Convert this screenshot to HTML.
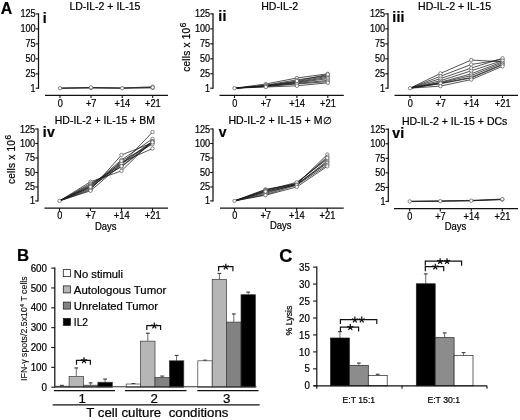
<!DOCTYPE html>
<html><head><meta charset="utf-8"><title>Figure</title>
<style>html,body{margin:0;padding:0;background:#fff;}svg{display:block;will-change:transform;} svg text{font-family:"Liberation Sans", sans-serif;stroke:#000;stroke-width:0.22px;}</style>
</head><body>
<svg width="520" height="420" viewBox="0 0 520 420" fill="#000">
<rect width="520" height="420" fill="#fff"/>
<text x="0.7" y="13.7" font-size="15.9" text-anchor="start" font-weight="bold" >A</text>
<text x="17.1" y="260.7" font-size="16.8" text-anchor="start" font-weight="bold" >B</text>
<text x="279.2" y="262.3" font-size="18.2" text-anchor="start" font-weight="bold" >C</text>
<line x1="38.5" y1="13.3" x2="38.5" y2="88.8" stroke="#111" stroke-width="1.25"/>
<line x1="35.7" y1="13.9" x2="38.5" y2="13.9" stroke="#111" stroke-width="1.1"/>
<text x="20.4" y="17.4" font-size="10.3" text-anchor="start" font-weight="normal" textLength="15.2" lengthAdjust="spacingAndGlyphs" >125</text>
<line x1="35.7" y1="28.88" x2="38.5" y2="28.88" stroke="#111" stroke-width="1.1"/>
<text x="20.4" y="32.38" font-size="10.3" text-anchor="start" font-weight="normal" textLength="15.2" lengthAdjust="spacingAndGlyphs" >100</text>
<line x1="35.7" y1="43.86" x2="38.5" y2="43.86" stroke="#111" stroke-width="1.1"/>
<text x="25.5" y="47.36" font-size="10.3" text-anchor="start" font-weight="normal" textLength="10.1" lengthAdjust="spacingAndGlyphs" >75</text>
<line x1="35.7" y1="58.84" x2="38.5" y2="58.84" stroke="#111" stroke-width="1.1"/>
<text x="25.5" y="62.34" font-size="10.3" text-anchor="start" font-weight="normal" textLength="10.1" lengthAdjust="spacingAndGlyphs" >50</text>
<line x1="35.7" y1="73.82" x2="38.5" y2="73.82" stroke="#111" stroke-width="1.1"/>
<text x="25.5" y="77.32" font-size="10.3" text-anchor="start" font-weight="normal" textLength="10.1" lengthAdjust="spacingAndGlyphs" >25</text>
<line x1="35.7" y1="88.2" x2="38.5" y2="88.2" stroke="#111" stroke-width="1.1"/>
<text x="30.6" y="91.7" font-size="10.3" text-anchor="start" font-weight="normal" textLength="5.0" lengthAdjust="spacingAndGlyphs" >1</text>
<line x1="45" y1="95.3" x2="168" y2="95.3" stroke="#111" stroke-width="1.3"/>
<line x1="60" y1="95.3" x2="60" y2="98.1" stroke="#111" stroke-width="1.1"/>
<text x="57.65" y="106.5" font-size="10.3" text-anchor="start" font-weight="normal" textLength="5.1" lengthAdjust="spacingAndGlyphs" >0</text>
<line x1="91" y1="95.3" x2="91" y2="98.1" stroke="#111" stroke-width="1.1"/>
<text x="85.9" y="106.5" font-size="10.3" text-anchor="start" font-weight="normal" textLength="10.6" lengthAdjust="spacingAndGlyphs" >+7</text>
<line x1="122.2" y1="95.3" x2="122.2" y2="98.1" stroke="#111" stroke-width="1.1"/>
<text x="114.5" y="106.5" font-size="10.3" text-anchor="start" font-weight="normal" textLength="15.8" lengthAdjust="spacingAndGlyphs" >+14</text>
<line x1="152.7" y1="95.3" x2="152.7" y2="98.1" stroke="#111" stroke-width="1.1"/>
<text x="145.0" y="106.5" font-size="10.3" text-anchor="start" font-weight="normal" textLength="15.8" lengthAdjust="spacingAndGlyphs" >+21</text>
<text x="69.4" y="9.9" font-size="10.4" text-anchor="start" font-weight="normal" textLength="71" lengthAdjust="spacingAndGlyphs" >LD-IL-2 + IL-15</text>
<text x="42.7" y="23.2" font-size="14.0" text-anchor="start" font-weight="bold" letter-spacing="0.3">i</text>
<polyline points="60,88.2 91,88.02 122.2,88.2 152.7,87.9" fill="none" stroke="#1c1c1c" stroke-width="0.75"/>
<polyline points="60,88.2 91,87.42 122.2,88.02 152.7,86.76" fill="none" stroke="#1c1c1c" stroke-width="0.75"/>
<polyline points="60,88.2 91,87.72 122.2,88.08 152.7,87.42" fill="none" stroke="#1c1c1c" stroke-width="0.75"/>
<circle cx="60" cy="88.2" r="1.7" fill="#fff" stroke="#555" stroke-width="0.7"/>
<circle cx="91" cy="88.02" r="1.7" fill="#fff" stroke="#555" stroke-width="0.7"/>
<circle cx="122.2" cy="88.2" r="1.7" fill="#fff" stroke="#555" stroke-width="0.7"/>
<circle cx="152.7" cy="87.9" r="1.7" fill="#fff" stroke="#555" stroke-width="0.7"/>
<circle cx="91" cy="87.42" r="1.7" fill="#fff" stroke="#555" stroke-width="0.7"/>
<circle cx="152.7" cy="86.76" r="1.7" fill="#fff" stroke="#555" stroke-width="0.7"/>
<circle cx="152.7" cy="87.42" r="1.7" fill="#fff" stroke="#555" stroke-width="0.7"/>
<line x1="213" y1="13.3" x2="213" y2="88.8" stroke="#111" stroke-width="1.25"/>
<line x1="210.2" y1="13.9" x2="213" y2="13.9" stroke="#111" stroke-width="1.1"/>
<text x="194.9" y="17.4" font-size="10.3" text-anchor="start" font-weight="normal" textLength="15.2" lengthAdjust="spacingAndGlyphs" >125</text>
<line x1="210.2" y1="28.88" x2="213" y2="28.88" stroke="#111" stroke-width="1.1"/>
<text x="194.9" y="32.38" font-size="10.3" text-anchor="start" font-weight="normal" textLength="15.2" lengthAdjust="spacingAndGlyphs" >100</text>
<line x1="210.2" y1="43.86" x2="213" y2="43.86" stroke="#111" stroke-width="1.1"/>
<text x="200.0" y="47.36" font-size="10.3" text-anchor="start" font-weight="normal" textLength="10.1" lengthAdjust="spacingAndGlyphs" >75</text>
<line x1="210.2" y1="58.84" x2="213" y2="58.84" stroke="#111" stroke-width="1.1"/>
<text x="200.0" y="62.34" font-size="10.3" text-anchor="start" font-weight="normal" textLength="10.1" lengthAdjust="spacingAndGlyphs" >50</text>
<line x1="210.2" y1="73.82" x2="213" y2="73.82" stroke="#111" stroke-width="1.1"/>
<text x="200.0" y="77.32" font-size="10.3" text-anchor="start" font-weight="normal" textLength="10.1" lengthAdjust="spacingAndGlyphs" >25</text>
<line x1="210.2" y1="88.2" x2="213" y2="88.2" stroke="#111" stroke-width="1.1"/>
<text x="205.1" y="91.7" font-size="10.3" text-anchor="start" font-weight="normal" textLength="5.0" lengthAdjust="spacingAndGlyphs" >1</text>
<line x1="219.5" y1="95.3" x2="343.8" y2="95.3" stroke="#111" stroke-width="1.3"/>
<line x1="234.5" y1="95.3" x2="234.5" y2="98.1" stroke="#111" stroke-width="1.1"/>
<text x="232.15" y="106.5" font-size="10.3" text-anchor="start" font-weight="normal" textLength="5.1" lengthAdjust="spacingAndGlyphs" >0</text>
<line x1="265.8" y1="95.3" x2="265.8" y2="98.1" stroke="#111" stroke-width="1.1"/>
<text x="260.7" y="106.5" font-size="10.3" text-anchor="start" font-weight="normal" textLength="10.6" lengthAdjust="spacingAndGlyphs" >+7</text>
<line x1="296.9" y1="95.3" x2="296.9" y2="98.1" stroke="#111" stroke-width="1.1"/>
<text x="289.2" y="106.5" font-size="10.3" text-anchor="start" font-weight="normal" textLength="15.8" lengthAdjust="spacingAndGlyphs" >+14</text>
<line x1="327.8" y1="95.3" x2="327.8" y2="98.1" stroke="#111" stroke-width="1.1"/>
<text x="320.1" y="106.5" font-size="10.3" text-anchor="start" font-weight="normal" textLength="15.8" lengthAdjust="spacingAndGlyphs" >+21</text>
<text x="261.2" y="9.8" font-size="10.4" text-anchor="start" font-weight="normal" textLength="37" lengthAdjust="spacingAndGlyphs" >HD-IL-2</text>
<text x="218.3" y="21.4" font-size="14.0" text-anchor="start" font-weight="bold" letter-spacing="0.3">ii</text>
<text transform="translate(190.1,71.7) rotate(-90)" font-size="10" text-anchor="start"><tspan textLength="43.8" lengthAdjust="spacing">cells x 10</tspan><tspan dy="-4.2" dx="0.4" font-size="8.2">6</tspan></text>
<polyline points="234.5,88.2 265.8,84.01 296.9,78.01 327.8,73.82" fill="none" stroke="#1c1c1c" stroke-width="0.75"/>
<polyline points="234.5,88.2 265.8,85.2 296.9,79.81 327.8,75.62" fill="none" stroke="#1c1c1c" stroke-width="0.75"/>
<polyline points="234.5,88.2 265.8,85.8 296.9,81.61 327.8,76.22" fill="none" stroke="#1c1c1c" stroke-width="0.75"/>
<polyline points="234.5,88.2 265.8,85.8 296.9,82.21 327.8,77.41" fill="none" stroke="#1c1c1c" stroke-width="0.75"/>
<polyline points="234.5,88.2 265.8,85.8 296.9,82.81 327.8,78.61" fill="none" stroke="#1c1c1c" stroke-width="0.75"/>
<polyline points="234.5,88.2 265.8,86.4 296.9,83.41 327.8,80.41" fill="none" stroke="#1c1c1c" stroke-width="0.75"/>
<polyline points="234.5,88.2 265.8,86.4 296.9,84.01 327.8,81.61" fill="none" stroke="#1c1c1c" stroke-width="0.75"/>
<polyline points="234.5,88.2 265.8,87.0 296.9,85.8 327.8,82.81" fill="none" stroke="#1c1c1c" stroke-width="0.75"/>
<polyline points="234.5,88.2 265.8,85.8 296.9,81.01 327.8,74.42" fill="none" stroke="#1c1c1c" stroke-width="0.75"/>
<circle cx="234.5" cy="88.2" r="1.7" fill="#fff" stroke="#555" stroke-width="0.7"/>
<circle cx="265.8" cy="84.01" r="1.7" fill="#fff" stroke="#555" stroke-width="0.7"/>
<circle cx="296.9" cy="78.01" r="1.7" fill="#fff" stroke="#555" stroke-width="0.7"/>
<circle cx="327.8" cy="73.82" r="1.7" fill="#fff" stroke="#555" stroke-width="0.7"/>
<circle cx="265.8" cy="85.2" r="1.7" fill="#fff" stroke="#555" stroke-width="0.7"/>
<circle cx="296.9" cy="79.81" r="1.7" fill="#fff" stroke="#555" stroke-width="0.7"/>
<circle cx="327.8" cy="75.62" r="1.7" fill="#fff" stroke="#555" stroke-width="0.7"/>
<circle cx="265.8" cy="85.8" r="1.7" fill="#fff" stroke="#555" stroke-width="0.7"/>
<circle cx="296.9" cy="81.61" r="1.7" fill="#fff" stroke="#555" stroke-width="0.7"/>
<circle cx="327.8" cy="76.22" r="1.7" fill="#fff" stroke="#555" stroke-width="0.7"/>
<circle cx="296.9" cy="82.21" r="1.7" fill="#fff" stroke="#555" stroke-width="0.7"/>
<circle cx="327.8" cy="77.41" r="1.7" fill="#fff" stroke="#555" stroke-width="0.7"/>
<circle cx="296.9" cy="82.81" r="1.7" fill="#fff" stroke="#555" stroke-width="0.7"/>
<circle cx="327.8" cy="78.61" r="1.7" fill="#fff" stroke="#555" stroke-width="0.7"/>
<circle cx="265.8" cy="86.4" r="1.7" fill="#fff" stroke="#555" stroke-width="0.7"/>
<circle cx="296.9" cy="83.41" r="1.7" fill="#fff" stroke="#555" stroke-width="0.7"/>
<circle cx="327.8" cy="80.41" r="1.7" fill="#fff" stroke="#555" stroke-width="0.7"/>
<circle cx="296.9" cy="84.01" r="1.7" fill="#fff" stroke="#555" stroke-width="0.7"/>
<circle cx="327.8" cy="81.61" r="1.7" fill="#fff" stroke="#555" stroke-width="0.7"/>
<circle cx="265.8" cy="87.0" r="1.7" fill="#fff" stroke="#555" stroke-width="0.7"/>
<circle cx="296.9" cy="85.8" r="1.7" fill="#fff" stroke="#555" stroke-width="0.7"/>
<circle cx="327.8" cy="82.81" r="1.7" fill="#fff" stroke="#555" stroke-width="0.7"/>
<circle cx="296.9" cy="81.01" r="1.7" fill="#fff" stroke="#555" stroke-width="0.7"/>
<circle cx="327.8" cy="74.42" r="1.7" fill="#fff" stroke="#555" stroke-width="0.7"/>
<line x1="388" y1="13.3" x2="388" y2="88.8" stroke="#111" stroke-width="1.25"/>
<line x1="385.2" y1="13.9" x2="388" y2="13.9" stroke="#111" stroke-width="1.1"/>
<text x="369.9" y="17.4" font-size="10.3" text-anchor="start" font-weight="normal" textLength="15.2" lengthAdjust="spacingAndGlyphs" >125</text>
<line x1="385.2" y1="28.88" x2="388" y2="28.88" stroke="#111" stroke-width="1.1"/>
<text x="369.9" y="32.38" font-size="10.3" text-anchor="start" font-weight="normal" textLength="15.2" lengthAdjust="spacingAndGlyphs" >100</text>
<line x1="385.2" y1="43.86" x2="388" y2="43.86" stroke="#111" stroke-width="1.1"/>
<text x="375.0" y="47.36" font-size="10.3" text-anchor="start" font-weight="normal" textLength="10.1" lengthAdjust="spacingAndGlyphs" >75</text>
<line x1="385.2" y1="58.84" x2="388" y2="58.84" stroke="#111" stroke-width="1.1"/>
<text x="375.0" y="62.34" font-size="10.3" text-anchor="start" font-weight="normal" textLength="10.1" lengthAdjust="spacingAndGlyphs" >50</text>
<line x1="385.2" y1="73.82" x2="388" y2="73.82" stroke="#111" stroke-width="1.1"/>
<text x="375.0" y="77.32" font-size="10.3" text-anchor="start" font-weight="normal" textLength="10.1" lengthAdjust="spacingAndGlyphs" >25</text>
<line x1="385.2" y1="88.2" x2="388" y2="88.2" stroke="#111" stroke-width="1.1"/>
<text x="380.1" y="91.7" font-size="10.3" text-anchor="start" font-weight="normal" textLength="5.0" lengthAdjust="spacingAndGlyphs" >1</text>
<line x1="394.5" y1="95.3" x2="518" y2="95.3" stroke="#111" stroke-width="1.3"/>
<line x1="410" y1="95.3" x2="410" y2="98.1" stroke="#111" stroke-width="1.1"/>
<text x="407.65" y="106.5" font-size="10.3" text-anchor="start" font-weight="normal" textLength="5.1" lengthAdjust="spacingAndGlyphs" >0</text>
<line x1="440.5" y1="95.3" x2="440.5" y2="98.1" stroke="#111" stroke-width="1.1"/>
<text x="435.4" y="106.5" font-size="10.3" text-anchor="start" font-weight="normal" textLength="10.6" lengthAdjust="spacingAndGlyphs" >+7</text>
<line x1="471.2" y1="95.3" x2="471.2" y2="98.1" stroke="#111" stroke-width="1.1"/>
<text x="463.5" y="106.5" font-size="10.3" text-anchor="start" font-weight="normal" textLength="15.8" lengthAdjust="spacingAndGlyphs" >+14</text>
<line x1="502.5" y1="95.3" x2="502.5" y2="98.1" stroke="#111" stroke-width="1.1"/>
<text x="494.8" y="106.5" font-size="10.3" text-anchor="start" font-weight="normal" textLength="15.8" lengthAdjust="spacingAndGlyphs" >+21</text>
<text x="418" y="10.0" font-size="10.4" text-anchor="start" font-weight="normal" textLength="73.2" lengthAdjust="spacingAndGlyphs" >HD-IL-2 + IL-15</text>
<text x="392.2" y="22.4" font-size="14.0" text-anchor="start" font-weight="bold" letter-spacing="0.3">iii</text>
<polyline points="410,88.2 440.5,73.4 471.2,60.04 502.5,61.84" fill="none" stroke="#1c1c1c" stroke-width="0.75"/>
<polyline points="410,88.2 440.5,76.22 471.2,64.53 502.5,59.44" fill="none" stroke="#1c1c1c" stroke-width="0.75"/>
<polyline points="410,88.2 440.5,78.61 471.2,68.07 502.5,58.24" fill="none" stroke="#1c1c1c" stroke-width="0.75"/>
<polyline points="410,88.2 440.5,80.71 471.2,70.82 502.5,60.64" fill="none" stroke="#1c1c1c" stroke-width="0.75"/>
<polyline points="410,88.2 440.5,82.21 471.2,73.82 502.5,61.84" fill="none" stroke="#1c1c1c" stroke-width="0.75"/>
<polyline points="410,88.2 440.5,82.81 471.2,75.62 502.5,63.03" fill="none" stroke="#1c1c1c" stroke-width="0.75"/>
<polyline points="410,88.2 440.5,83.41 471.2,77.41 502.5,64.23" fill="none" stroke="#1c1c1c" stroke-width="0.75"/>
<polyline points="410,88.2 440.5,83.71 471.2,78.01 502.5,64.83" fill="none" stroke="#1c1c1c" stroke-width="0.75"/>
<polyline points="410,88.2 440.5,86.1 471.2,79.57 502.5,66.33" fill="none" stroke="#1c1c1c" stroke-width="0.75"/>
<circle cx="410" cy="88.2" r="1.7" fill="#fff" stroke="#555" stroke-width="0.7"/>
<circle cx="440.5" cy="73.4" r="1.7" fill="#fff" stroke="#555" stroke-width="0.7"/>
<circle cx="471.2" cy="60.04" r="1.7" fill="#fff" stroke="#555" stroke-width="0.7"/>
<circle cx="502.5" cy="61.84" r="1.7" fill="#fff" stroke="#555" stroke-width="0.7"/>
<circle cx="440.5" cy="76.22" r="1.7" fill="#fff" stroke="#555" stroke-width="0.7"/>
<circle cx="471.2" cy="64.53" r="1.7" fill="#fff" stroke="#555" stroke-width="0.7"/>
<circle cx="502.5" cy="59.44" r="1.7" fill="#fff" stroke="#555" stroke-width="0.7"/>
<circle cx="440.5" cy="78.61" r="1.7" fill="#fff" stroke="#555" stroke-width="0.7"/>
<circle cx="471.2" cy="68.07" r="1.7" fill="#fff" stroke="#555" stroke-width="0.7"/>
<circle cx="502.5" cy="58.24" r="1.7" fill="#fff" stroke="#555" stroke-width="0.7"/>
<circle cx="440.5" cy="80.71" r="1.7" fill="#fff" stroke="#555" stroke-width="0.7"/>
<circle cx="471.2" cy="70.82" r="1.7" fill="#fff" stroke="#555" stroke-width="0.7"/>
<circle cx="502.5" cy="60.64" r="1.7" fill="#fff" stroke="#555" stroke-width="0.7"/>
<circle cx="440.5" cy="82.21" r="1.7" fill="#fff" stroke="#555" stroke-width="0.7"/>
<circle cx="471.2" cy="73.82" r="1.7" fill="#fff" stroke="#555" stroke-width="0.7"/>
<circle cx="440.5" cy="82.81" r="1.7" fill="#fff" stroke="#555" stroke-width="0.7"/>
<circle cx="471.2" cy="75.62" r="1.7" fill="#fff" stroke="#555" stroke-width="0.7"/>
<circle cx="502.5" cy="63.03" r="1.7" fill="#fff" stroke="#555" stroke-width="0.7"/>
<circle cx="440.5" cy="83.41" r="1.7" fill="#fff" stroke="#555" stroke-width="0.7"/>
<circle cx="471.2" cy="77.41" r="1.7" fill="#fff" stroke="#555" stroke-width="0.7"/>
<circle cx="502.5" cy="64.23" r="1.7" fill="#fff" stroke="#555" stroke-width="0.7"/>
<circle cx="471.2" cy="78.01" r="1.7" fill="#fff" stroke="#555" stroke-width="0.7"/>
<circle cx="502.5" cy="64.83" r="1.7" fill="#fff" stroke="#555" stroke-width="0.7"/>
<circle cx="440.5" cy="86.1" r="1.7" fill="#fff" stroke="#555" stroke-width="0.7"/>
<circle cx="471.2" cy="79.57" r="1.7" fill="#fff" stroke="#555" stroke-width="0.7"/>
<circle cx="502.5" cy="66.33" r="1.7" fill="#fff" stroke="#555" stroke-width="0.7"/>
<line x1="38" y1="128.4" x2="38" y2="201.5" stroke="#111" stroke-width="1.25"/>
<line x1="35.2" y1="129.0" x2="38" y2="129.0" stroke="#111" stroke-width="1.1"/>
<text x="19.9" y="132.5" font-size="10.3" text-anchor="start" font-weight="normal" textLength="15.2" lengthAdjust="spacingAndGlyphs" >125</text>
<line x1="35.2" y1="143.5" x2="38" y2="143.5" stroke="#111" stroke-width="1.1"/>
<text x="19.9" y="147.0" font-size="10.3" text-anchor="start" font-weight="normal" textLength="15.2" lengthAdjust="spacingAndGlyphs" >100</text>
<line x1="35.2" y1="157.99" x2="38" y2="157.99" stroke="#111" stroke-width="1.1"/>
<text x="25.0" y="161.49" font-size="10.3" text-anchor="start" font-weight="normal" textLength="10.1" lengthAdjust="spacingAndGlyphs" >75</text>
<line x1="35.2" y1="172.49" x2="38" y2="172.49" stroke="#111" stroke-width="1.1"/>
<text x="25.0" y="175.99" font-size="10.3" text-anchor="start" font-weight="normal" textLength="10.1" lengthAdjust="spacingAndGlyphs" >50</text>
<line x1="35.2" y1="186.98" x2="38" y2="186.98" stroke="#111" stroke-width="1.1"/>
<text x="25.0" y="190.48" font-size="10.3" text-anchor="start" font-weight="normal" textLength="10.1" lengthAdjust="spacingAndGlyphs" >25</text>
<line x1="35.2" y1="200.9" x2="38" y2="200.9" stroke="#111" stroke-width="1.1"/>
<text x="30.1" y="204.4" font-size="10.3" text-anchor="start" font-weight="normal" textLength="5.0" lengthAdjust="spacingAndGlyphs" >1</text>
<line x1="44.5" y1="208.1" x2="168" y2="208.1" stroke="#111" stroke-width="1.3"/>
<line x1="59.5" y1="208.1" x2="59.5" y2="210.9" stroke="#111" stroke-width="1.1"/>
<text x="57.15" y="219.3" font-size="10.3" text-anchor="start" font-weight="normal" textLength="5.1" lengthAdjust="spacingAndGlyphs" >0</text>
<line x1="90.5" y1="208.1" x2="90.5" y2="210.9" stroke="#111" stroke-width="1.1"/>
<text x="85.4" y="219.3" font-size="10.3" text-anchor="start" font-weight="normal" textLength="10.6" lengthAdjust="spacingAndGlyphs" >+7</text>
<line x1="121.5" y1="208.1" x2="121.5" y2="210.9" stroke="#111" stroke-width="1.1"/>
<text x="113.8" y="219.3" font-size="10.3" text-anchor="start" font-weight="normal" textLength="15.8" lengthAdjust="spacingAndGlyphs" >+14</text>
<line x1="152.5" y1="208.1" x2="152.5" y2="210.9" stroke="#111" stroke-width="1.1"/>
<text x="144.8" y="219.3" font-size="10.3" text-anchor="start" font-weight="normal" textLength="15.8" lengthAdjust="spacingAndGlyphs" >+21</text>
<text x="54.8" y="124.2" font-size="10.4" text-anchor="start" font-weight="normal" textLength="100.2" lengthAdjust="spacingAndGlyphs" >HD-IL-2 + IL-15 + BM</text>
<text x="42.7" y="137.2" font-size="14.0" text-anchor="start" font-weight="bold" letter-spacing="0.3">iv</text>
<text transform="translate(15.2,184) rotate(-90)" font-size="10" text-anchor="start"><tspan textLength="43.8" lengthAdjust="spacing">cells x 10</tspan><tspan dy="-4.2" dx="0.4" font-size="8.2">6</tspan></text>
<text x="94.9" y="229.5" font-size="10.3" text-anchor="start" font-weight="normal" textLength="21.6" lengthAdjust="spacingAndGlyphs" >Days</text>
<polyline points="59.5,200.9 90.5,181.77 121.5,170.92 152.5,140.6" fill="none" stroke="#1c1c1c" stroke-width="0.75"/>
<polyline points="59.5,200.9 90.5,183.5 121.5,166.81 152.5,142.92" fill="none" stroke="#1c1c1c" stroke-width="0.75"/>
<polyline points="59.5,200.9 90.5,184.66 121.5,164.54 152.5,132.07" fill="none" stroke="#1c1c1c" stroke-width="0.75"/>
<polyline points="59.5,200.9 90.5,185.82 121.5,162.28 152.5,148.54" fill="none" stroke="#1c1c1c" stroke-width="0.75"/>
<polyline points="59.5,200.9 90.5,186.4 121.5,159.91 152.5,138.92" fill="none" stroke="#1c1c1c" stroke-width="0.75"/>
<polyline points="59.5,200.9 90.5,187.56 121.5,163.21 152.5,141.18" fill="none" stroke="#1c1c1c" stroke-width="0.75"/>
<polyline points="59.5,200.9 90.5,188.72 121.5,160.89 152.5,144.08" fill="none" stroke="#1c1c1c" stroke-width="0.75"/>
<polyline points="59.5,200.9 90.5,189.88 121.5,154.98 152.5,142.8" fill="none" stroke="#1c1c1c" stroke-width="0.75"/>
<polyline points="59.5,200.9 90.5,190.81 121.5,164.37 152.5,141.76" fill="none" stroke="#1c1c1c" stroke-width="0.75"/>
<polyline points="59.5,200.9 90.5,186.98 121.5,166.11 152.5,142.34" fill="none" stroke="#1c1c1c" stroke-width="0.75"/>
<circle cx="59.5" cy="200.9" r="1.7" fill="#fff" stroke="#555" stroke-width="0.7"/>
<circle cx="90.5" cy="181.77" r="1.7" fill="#fff" stroke="#555" stroke-width="0.7"/>
<circle cx="121.5" cy="170.92" r="1.7" fill="#fff" stroke="#555" stroke-width="0.7"/>
<circle cx="152.5" cy="140.6" r="1.7" fill="#fff" stroke="#555" stroke-width="0.7"/>
<circle cx="90.5" cy="183.5" r="1.7" fill="#fff" stroke="#555" stroke-width="0.7"/>
<circle cx="121.5" cy="166.81" r="1.7" fill="#fff" stroke="#555" stroke-width="0.7"/>
<circle cx="152.5" cy="142.92" r="1.7" fill="#fff" stroke="#555" stroke-width="0.7"/>
<circle cx="90.5" cy="184.66" r="1.7" fill="#fff" stroke="#555" stroke-width="0.7"/>
<circle cx="121.5" cy="164.54" r="1.7" fill="#fff" stroke="#555" stroke-width="0.7"/>
<circle cx="152.5" cy="132.07" r="1.7" fill="#fff" stroke="#555" stroke-width="0.7"/>
<circle cx="90.5" cy="185.82" r="1.7" fill="#fff" stroke="#555" stroke-width="0.7"/>
<circle cx="121.5" cy="162.28" r="1.7" fill="#fff" stroke="#555" stroke-width="0.7"/>
<circle cx="152.5" cy="148.54" r="1.7" fill="#fff" stroke="#555" stroke-width="0.7"/>
<circle cx="90.5" cy="186.4" r="1.7" fill="#fff" stroke="#555" stroke-width="0.7"/>
<circle cx="121.5" cy="159.91" r="1.7" fill="#fff" stroke="#555" stroke-width="0.7"/>
<circle cx="152.5" cy="138.92" r="1.7" fill="#fff" stroke="#555" stroke-width="0.7"/>
<circle cx="90.5" cy="187.56" r="1.7" fill="#fff" stroke="#555" stroke-width="0.7"/>
<circle cx="121.5" cy="163.21" r="1.7" fill="#fff" stroke="#555" stroke-width="0.7"/>
<circle cx="152.5" cy="141.18" r="1.7" fill="#fff" stroke="#555" stroke-width="0.7"/>
<circle cx="90.5" cy="188.72" r="1.7" fill="#fff" stroke="#555" stroke-width="0.7"/>
<circle cx="121.5" cy="160.89" r="1.7" fill="#fff" stroke="#555" stroke-width="0.7"/>
<circle cx="152.5" cy="144.08" r="1.7" fill="#fff" stroke="#555" stroke-width="0.7"/>
<circle cx="90.5" cy="189.88" r="1.7" fill="#fff" stroke="#555" stroke-width="0.7"/>
<circle cx="121.5" cy="154.98" r="1.7" fill="#fff" stroke="#555" stroke-width="0.7"/>
<circle cx="90.5" cy="190.81" r="1.7" fill="#fff" stroke="#555" stroke-width="0.7"/>
<circle cx="152.5" cy="141.76" r="1.7" fill="#fff" stroke="#555" stroke-width="0.7"/>
<circle cx="90.5" cy="186.98" r="1.7" fill="#fff" stroke="#555" stroke-width="0.7"/>
<circle cx="121.5" cy="166.11" r="1.7" fill="#fff" stroke="#555" stroke-width="0.7"/>
<circle cx="152.5" cy="142.34" r="1.7" fill="#fff" stroke="#555" stroke-width="0.7"/>
<line x1="213" y1="128.4" x2="213" y2="201.5" stroke="#111" stroke-width="1.25"/>
<line x1="210.2" y1="129.0" x2="213" y2="129.0" stroke="#111" stroke-width="1.1"/>
<text x="194.9" y="132.5" font-size="10.3" text-anchor="start" font-weight="normal" textLength="15.2" lengthAdjust="spacingAndGlyphs" >125</text>
<line x1="210.2" y1="143.5" x2="213" y2="143.5" stroke="#111" stroke-width="1.1"/>
<text x="194.9" y="147.0" font-size="10.3" text-anchor="start" font-weight="normal" textLength="15.2" lengthAdjust="spacingAndGlyphs" >100</text>
<line x1="210.2" y1="157.99" x2="213" y2="157.99" stroke="#111" stroke-width="1.1"/>
<text x="200.0" y="161.49" font-size="10.3" text-anchor="start" font-weight="normal" textLength="10.1" lengthAdjust="spacingAndGlyphs" >75</text>
<line x1="210.2" y1="172.49" x2="213" y2="172.49" stroke="#111" stroke-width="1.1"/>
<text x="200.0" y="175.99" font-size="10.3" text-anchor="start" font-weight="normal" textLength="10.1" lengthAdjust="spacingAndGlyphs" >50</text>
<line x1="210.2" y1="186.98" x2="213" y2="186.98" stroke="#111" stroke-width="1.1"/>
<text x="200.0" y="190.48" font-size="10.3" text-anchor="start" font-weight="normal" textLength="10.1" lengthAdjust="spacingAndGlyphs" >25</text>
<line x1="210.2" y1="200.9" x2="213" y2="200.9" stroke="#111" stroke-width="1.1"/>
<text x="205.1" y="204.4" font-size="10.3" text-anchor="start" font-weight="normal" textLength="5.0" lengthAdjust="spacingAndGlyphs" >1</text>
<line x1="220" y1="208.1" x2="343.7" y2="208.1" stroke="#111" stroke-width="1.3"/>
<line x1="234.5" y1="208.1" x2="234.5" y2="210.9" stroke="#111" stroke-width="1.1"/>
<text x="232.15" y="218.5" font-size="10.3" text-anchor="start" font-weight="normal" textLength="5.1" lengthAdjust="spacingAndGlyphs" >0</text>
<line x1="265.5" y1="208.1" x2="265.5" y2="210.9" stroke="#111" stroke-width="1.1"/>
<text x="260.4" y="218.5" font-size="10.3" text-anchor="start" font-weight="normal" textLength="10.6" lengthAdjust="spacingAndGlyphs" >+7</text>
<line x1="296.7" y1="208.1" x2="296.7" y2="210.9" stroke="#111" stroke-width="1.1"/>
<text x="289.0" y="218.5" font-size="10.3" text-anchor="start" font-weight="normal" textLength="15.8" lengthAdjust="spacingAndGlyphs" >+14</text>
<line x1="327.3" y1="208.1" x2="327.3" y2="210.9" stroke="#111" stroke-width="1.1"/>
<text x="319.6" y="218.5" font-size="10.3" text-anchor="start" font-weight="normal" textLength="15.8" lengthAdjust="spacingAndGlyphs" >+21</text>
<text x="228.4" y="124.3" font-size="10.4" text-anchor="start" font-weight="normal" textLength="103.3" lengthAdjust="spacingAndGlyphs" >HD-IL-2 + IL-15 + M&#8709;</text>
<text x="218.8" y="137.2" font-size="14.0" text-anchor="start" font-weight="bold" letter-spacing="0.3">v</text>
<text x="270.0" y="228.7" font-size="10.3" text-anchor="start" font-weight="normal" textLength="21.6" lengthAdjust="spacingAndGlyphs" >Days</text>
<polyline points="234.5,200.9 265.5,189.3 296.7,184.08 327.3,154.51" fill="none" stroke="#1c1c1c" stroke-width="0.75"/>
<polyline points="234.5,200.9 265.5,189.88 296.7,183.5 327.3,156.83" fill="none" stroke="#1c1c1c" stroke-width="0.75"/>
<polyline points="234.5,200.9 265.5,190.46 296.7,182.35 327.3,159.15" fill="none" stroke="#1c1c1c" stroke-width="0.75"/>
<polyline points="234.5,200.9 265.5,191.04 296.7,184.66 327.3,160.89" fill="none" stroke="#1c1c1c" stroke-width="0.75"/>
<polyline points="234.5,200.9 265.5,192.2 296.7,184.95 327.3,162.05" fill="none" stroke="#1c1c1c" stroke-width="0.75"/>
<polyline points="234.5,200.9 265.5,193.36 296.7,184.08 327.3,163.21" fill="none" stroke="#1c1c1c" stroke-width="0.75"/>
<polyline points="234.5,200.9 265.5,194.52 296.7,185.24 327.3,164.95" fill="none" stroke="#1c1c1c" stroke-width="0.75"/>
<polyline points="234.5,200.9 265.5,195.22 296.7,186.98 327.3,166.34" fill="none" stroke="#1c1c1c" stroke-width="0.75"/>
<polyline points="234.5,200.9 265.5,191.62 296.7,183.21 327.3,157.99" fill="none" stroke="#1c1c1c" stroke-width="0.75"/>
<circle cx="234.5" cy="200.9" r="1.7" fill="#fff" stroke="#555" stroke-width="0.7"/>
<circle cx="265.5" cy="189.3" r="1.7" fill="#fff" stroke="#555" stroke-width="0.7"/>
<circle cx="296.7" cy="184.08" r="1.7" fill="#fff" stroke="#555" stroke-width="0.7"/>
<circle cx="327.3" cy="154.51" r="1.7" fill="#fff" stroke="#555" stroke-width="0.7"/>
<circle cx="265.5" cy="189.88" r="1.7" fill="#fff" stroke="#555" stroke-width="0.7"/>
<circle cx="296.7" cy="183.5" r="1.7" fill="#fff" stroke="#555" stroke-width="0.7"/>
<circle cx="327.3" cy="156.83" r="1.7" fill="#fff" stroke="#555" stroke-width="0.7"/>
<circle cx="265.5" cy="190.46" r="1.7" fill="#fff" stroke="#555" stroke-width="0.7"/>
<circle cx="296.7" cy="182.35" r="1.7" fill="#fff" stroke="#555" stroke-width="0.7"/>
<circle cx="327.3" cy="159.15" r="1.7" fill="#fff" stroke="#555" stroke-width="0.7"/>
<circle cx="265.5" cy="191.04" r="1.7" fill="#fff" stroke="#555" stroke-width="0.7"/>
<circle cx="296.7" cy="184.66" r="1.7" fill="#fff" stroke="#555" stroke-width="0.7"/>
<circle cx="327.3" cy="160.89" r="1.7" fill="#fff" stroke="#555" stroke-width="0.7"/>
<circle cx="265.5" cy="192.2" r="1.7" fill="#fff" stroke="#555" stroke-width="0.7"/>
<circle cx="327.3" cy="162.05" r="1.7" fill="#fff" stroke="#555" stroke-width="0.7"/>
<circle cx="265.5" cy="193.36" r="1.7" fill="#fff" stroke="#555" stroke-width="0.7"/>
<circle cx="327.3" cy="163.21" r="1.7" fill="#fff" stroke="#555" stroke-width="0.7"/>
<circle cx="265.5" cy="194.52" r="1.7" fill="#fff" stroke="#555" stroke-width="0.7"/>
<circle cx="296.7" cy="185.24" r="1.7" fill="#fff" stroke="#555" stroke-width="0.7"/>
<circle cx="327.3" cy="164.95" r="1.7" fill="#fff" stroke="#555" stroke-width="0.7"/>
<circle cx="265.5" cy="195.22" r="1.7" fill="#fff" stroke="#555" stroke-width="0.7"/>
<circle cx="296.7" cy="186.98" r="1.7" fill="#fff" stroke="#555" stroke-width="0.7"/>
<circle cx="327.3" cy="166.34" r="1.7" fill="#fff" stroke="#555" stroke-width="0.7"/>
<circle cx="265.5" cy="191.62" r="1.7" fill="#fff" stroke="#555" stroke-width="0.7"/>
<circle cx="327.3" cy="157.99" r="1.7" fill="#fff" stroke="#555" stroke-width="0.7"/>
<line x1="388.3" y1="128.6" x2="388.3" y2="202.0" stroke="#111" stroke-width="1.25"/>
<line x1="385.5" y1="129.2" x2="388.3" y2="129.2" stroke="#111" stroke-width="1.1"/>
<text x="370.2" y="132.7" font-size="10.3" text-anchor="start" font-weight="normal" textLength="15.2" lengthAdjust="spacingAndGlyphs" >125</text>
<line x1="385.5" y1="143.76" x2="388.3" y2="143.76" stroke="#111" stroke-width="1.1"/>
<text x="370.2" y="147.26" font-size="10.3" text-anchor="start" font-weight="normal" textLength="15.2" lengthAdjust="spacingAndGlyphs" >100</text>
<line x1="385.5" y1="158.31" x2="388.3" y2="158.31" stroke="#111" stroke-width="1.1"/>
<text x="375.3" y="161.81" font-size="10.3" text-anchor="start" font-weight="normal" textLength="10.1" lengthAdjust="spacingAndGlyphs" >75</text>
<line x1="385.5" y1="172.87" x2="388.3" y2="172.87" stroke="#111" stroke-width="1.1"/>
<text x="375.3" y="176.37" font-size="10.3" text-anchor="start" font-weight="normal" textLength="10.1" lengthAdjust="spacingAndGlyphs" >50</text>
<line x1="385.5" y1="187.43" x2="388.3" y2="187.43" stroke="#111" stroke-width="1.1"/>
<text x="375.3" y="190.93" font-size="10.3" text-anchor="start" font-weight="normal" textLength="10.1" lengthAdjust="spacingAndGlyphs" >25</text>
<line x1="385.5" y1="201.4" x2="388.3" y2="201.4" stroke="#111" stroke-width="1.1"/>
<text x="380.4" y="204.9" font-size="10.3" text-anchor="start" font-weight="normal" textLength="5.0" lengthAdjust="spacingAndGlyphs" >1</text>
<line x1="394" y1="208.6" x2="518" y2="208.6" stroke="#111" stroke-width="1.3"/>
<line x1="409.7" y1="208.6" x2="409.7" y2="211.4" stroke="#111" stroke-width="1.1"/>
<text x="407.35" y="220.2" font-size="10.3" text-anchor="start" font-weight="normal" textLength="5.1" lengthAdjust="spacingAndGlyphs" >0</text>
<line x1="440.3" y1="208.6" x2="440.3" y2="211.4" stroke="#111" stroke-width="1.1"/>
<text x="435.2" y="220.2" font-size="10.3" text-anchor="start" font-weight="normal" textLength="10.6" lengthAdjust="spacingAndGlyphs" >+7</text>
<line x1="471.3" y1="208.6" x2="471.3" y2="211.4" stroke="#111" stroke-width="1.1"/>
<text x="463.6" y="220.2" font-size="10.3" text-anchor="start" font-weight="normal" textLength="15.8" lengthAdjust="spacingAndGlyphs" >+14</text>
<line x1="502.3" y1="208.6" x2="502.3" y2="211.4" stroke="#111" stroke-width="1.1"/>
<text x="494.6" y="220.2" font-size="10.3" text-anchor="start" font-weight="normal" textLength="15.8" lengthAdjust="spacingAndGlyphs" >+21</text>
<text x="401.9" y="124.7" font-size="10.4" text-anchor="start" font-weight="normal" textLength="105.5" lengthAdjust="spacingAndGlyphs" >HD-IL-2 + IL-15 + DCs</text>
<text x="392.2" y="137.6" font-size="14.0" text-anchor="start" font-weight="bold" letter-spacing="0.3">vi</text>
<text x="444.7" y="230.4" font-size="10.3" text-anchor="start" font-weight="normal" textLength="21.6" lengthAdjust="spacingAndGlyphs" >Days</text>
<polyline points="409.7,201.4 440.3,201.11 471.3,200.7 502.3,199.65" fill="none" stroke="#1c1c1c" stroke-width="0.75"/>
<polyline points="409.7,201.4 440.3,200.93 471.3,200.35 502.3,199.07" fill="none" stroke="#1c1c1c" stroke-width="0.75"/>
<polyline points="409.7,201.4 440.3,201.23 471.3,200.82 502.3,199.36" fill="none" stroke="#1c1c1c" stroke-width="0.75"/>
<circle cx="409.7" cy="201.4" r="1.7" fill="#fff" stroke="#555" stroke-width="0.7"/>
<circle cx="440.3" cy="201.11" r="1.7" fill="#fff" stroke="#555" stroke-width="0.7"/>
<circle cx="471.3" cy="200.7" r="1.7" fill="#fff" stroke="#555" stroke-width="0.7"/>
<circle cx="502.3" cy="199.65" r="1.7" fill="#fff" stroke="#555" stroke-width="0.7"/>
<circle cx="502.3" cy="199.07" r="1.7" fill="#fff" stroke="#555" stroke-width="0.7"/>
<line x1="54.8" y1="267.5" x2="54.8" y2="387.7" stroke="#111" stroke-width="1.25"/>
<line x1="51.3" y1="387.2" x2="54.8" y2="387.2" stroke="#111" stroke-width="1.1"/>
<text x="41.5" y="390.8" font-size="10.1" text-anchor="start" font-weight="normal" textLength="5.5" lengthAdjust="spacingAndGlyphs" >0</text>
<line x1="51.3" y1="367.35" x2="54.8" y2="367.35" stroke="#111" stroke-width="1.1"/>
<text x="30.7" y="370.95" font-size="10.1" text-anchor="start" font-weight="normal" textLength="16.3" lengthAdjust="spacingAndGlyphs" >100</text>
<line x1="51.3" y1="347.5" x2="54.8" y2="347.5" stroke="#111" stroke-width="1.1"/>
<text x="30.7" y="351.1" font-size="10.1" text-anchor="start" font-weight="normal" textLength="16.3" lengthAdjust="spacingAndGlyphs" >200</text>
<line x1="51.3" y1="327.65" x2="54.8" y2="327.65" stroke="#111" stroke-width="1.1"/>
<text x="30.7" y="331.25" font-size="10.1" text-anchor="start" font-weight="normal" textLength="16.3" lengthAdjust="spacingAndGlyphs" >300</text>
<line x1="51.3" y1="307.8" x2="54.8" y2="307.8" stroke="#111" stroke-width="1.1"/>
<text x="30.7" y="311.4" font-size="10.1" text-anchor="start" font-weight="normal" textLength="16.3" lengthAdjust="spacingAndGlyphs" >400</text>
<line x1="51.3" y1="287.95" x2="54.8" y2="287.95" stroke="#111" stroke-width="1.1"/>
<text x="30.7" y="291.55" font-size="10.1" text-anchor="start" font-weight="normal" textLength="16.3" lengthAdjust="spacingAndGlyphs" >500</text>
<line x1="51.3" y1="268.1" x2="54.8" y2="268.1" stroke="#111" stroke-width="1.1"/>
<text x="30.7" y="271.7" font-size="10.1" text-anchor="start" font-weight="normal" textLength="16.3" lengthAdjust="spacingAndGlyphs" >600</text>
<text transform="translate(26.5,328.6) rotate(-90)" font-size="8.7" text-anchor="middle" textLength="104.6" lengthAdjust="spacingAndGlyphs" style="stroke-width:0.08px">IFN-&#947; spots/2.5x10<tspan dy="-2.8" font-size="6">4</tspan><tspan dy="2.8"> T cells</tspan></text>
<line x1="61.900000000000006" y1="386.2075" x2="61.900000000000006" y2="385.4135" stroke="#444" stroke-width="0.8"/>
<line x1="60.00000000000001" y1="385.4135" x2="63.800000000000004" y2="385.4135" stroke="#444" stroke-width="1.2"/>
<rect x="54.7" y="386.21" width="14.4" height="0.99" fill="#fff" stroke="#3a3a3a" stroke-width="0.7"/>
<line x1="76.30000000000001" y1="376.481" x2="76.30000000000001" y2="367.9455" stroke="#444" stroke-width="0.8"/>
<line x1="74.4" y1="367.9455" x2="78.20000000000002" y2="367.9455" stroke="#444" stroke-width="1.2"/>
<rect x="69.1" y="376.48" width="14.4" height="10.72" fill="#b6b6b6" stroke="#3a3a3a" stroke-width="0.7"/>
<line x1="90.7" y1="385.215" x2="90.7" y2="382.83299999999997" stroke="#444" stroke-width="0.8"/>
<line x1="88.8" y1="382.83299999999997" x2="92.60000000000001" y2="382.83299999999997" stroke="#444" stroke-width="1.2"/>
<rect x="83.5" y="385.21" width="14.4" height="1.99" fill="#828282" stroke="#3a3a3a" stroke-width="0.7"/>
<line x1="105.10000000000001" y1="382.2375" x2="105.10000000000001" y2="379.06149999999997" stroke="#444" stroke-width="0.8"/>
<line x1="103.2" y1="379.06149999999997" x2="107.00000000000001" y2="379.06149999999997" stroke="#444" stroke-width="1.2"/>
<rect x="97.9" y="382.24" width="14.4" height="4.96" fill="#000" stroke="#3a3a3a" stroke-width="0.7"/>
<line x1="133.4" y1="384.024" x2="133.4" y2="383.627" stroke="#444" stroke-width="0.8"/>
<line x1="131.5" y1="383.627" x2="135.3" y2="383.627" stroke="#444" stroke-width="1.2"/>
<rect x="126.2" y="384.02" width="14.4" height="3.18" fill="#fff" stroke="#3a3a3a" stroke-width="0.7"/>
<line x1="147.79999999999998" y1="341.14799999999997" x2="147.79999999999998" y2="333.20799999999997" stroke="#444" stroke-width="0.8"/>
<line x1="145.89999999999998" y1="333.20799999999997" x2="149.7" y2="333.20799999999997" stroke="#444" stroke-width="1.2"/>
<rect x="140.6" y="341.15" width="14.4" height="46.05" fill="#b6b6b6" stroke="#3a3a3a" stroke-width="0.7"/>
<line x1="162.2" y1="377.4735" x2="162.2" y2="376.084" stroke="#444" stroke-width="0.8"/>
<line x1="160.29999999999998" y1="376.084" x2="164.1" y2="376.084" stroke="#444" stroke-width="1.2"/>
<rect x="155.0" y="377.47" width="14.4" height="9.73" fill="#828282" stroke="#3a3a3a" stroke-width="0.7"/>
<line x1="176.6" y1="360.79949999999997" x2="176.6" y2="355.44" stroke="#444" stroke-width="0.8"/>
<line x1="174.7" y1="355.44" x2="178.5" y2="355.44" stroke="#444" stroke-width="1.2"/>
<rect x="169.4" y="360.8" width="14.4" height="26.4" fill="#000" stroke="#3a3a3a" stroke-width="0.7"/>
<line x1="205.0" y1="360.79949999999997" x2="205.0" y2="360.204" stroke="#444" stroke-width="0.8"/>
<line x1="203.1" y1="360.204" x2="206.9" y2="360.204" stroke="#444" stroke-width="1.2"/>
<rect x="197.8" y="360.8" width="14.4" height="26.4" fill="#fff" stroke="#3a3a3a" stroke-width="0.7"/>
<line x1="219.4" y1="279.4145" x2="219.4" y2="273.4595" stroke="#444" stroke-width="0.8"/>
<line x1="217.5" y1="273.4595" x2="221.3" y2="273.4595" stroke="#444" stroke-width="1.2"/>
<rect x="212.2" y="279.41" width="14.4" height="107.79" fill="#b6b6b6" stroke="#3a3a3a" stroke-width="0.7"/>
<line x1="233.8" y1="322.092" x2="233.8" y2="313.95349999999996" stroke="#444" stroke-width="0.8"/>
<line x1="231.9" y1="313.95349999999996" x2="235.70000000000002" y2="313.95349999999996" stroke="#444" stroke-width="1.2"/>
<rect x="226.6" y="322.09" width="14.4" height="65.11" fill="#828282" stroke="#3a3a3a" stroke-width="0.7"/>
<line x1="248.2" y1="294.69899999999996" x2="248.2" y2="292.1185" stroke="#444" stroke-width="0.8"/>
<line x1="246.29999999999998" y1="292.1185" x2="250.1" y2="292.1185" stroke="#444" stroke-width="1.2"/>
<rect x="241.0" y="294.7" width="14.4" height="92.5" fill="#000" stroke="#3a3a3a" stroke-width="0.7"/>
<line x1="54.8" y1="386.7" x2="256.5" y2="386.7" stroke="#333" stroke-width="1.1"/>
<line x1="53.9" y1="390.6" x2="115" y2="390.6" stroke="#111" stroke-width="1.3"/>
<text x="82.3" y="403" font-size="13.3" text-anchor="middle" font-weight="normal" >1</text>
<line x1="125" y1="390.6" x2="186.5" y2="390.6" stroke="#111" stroke-width="1.3"/>
<text x="154.2" y="403" font-size="13.3" text-anchor="middle" font-weight="normal" >2</text>
<line x1="197.3" y1="390.6" x2="258.5" y2="390.6" stroke="#111" stroke-width="1.3"/>
<text x="226.6" y="403" font-size="13.3" text-anchor="middle" font-weight="normal" >3</text>
<line x1="52.7" y1="404.9" x2="259.7" y2="404.9" stroke="#111" stroke-width="1.3"/>
<text x="86.2" y="417.4" font-size="12.6" text-anchor="start" font-weight="normal" textLength="142.3" lengthAdjust="spacingAndGlyphs" >T cell culture&#160; conditions</text>
<rect x="63.3" y="269.6" width="7.1" height="7" fill="#fff" stroke="#222" stroke-width="0.8"/>
<text x="73.8" y="277.5" font-size="11.3" text-anchor="start" font-weight="normal" textLength="49.3" lengthAdjust="spacingAndGlyphs" >No stimuli</text>
<rect x="63.3" y="285.9" width="7.1" height="7" fill="#b6b6b6" stroke="#222" stroke-width="0.8"/>
<text x="73.8" y="293.8" font-size="11.3" text-anchor="start" font-weight="normal" textLength="92.5" lengthAdjust="spacingAndGlyphs" >Autologous Tumor</text>
<rect x="63.3" y="302.1" width="7.1" height="7" fill="#828282" stroke="#222" stroke-width="0.8"/>
<text x="73.8" y="310" font-size="11.3" text-anchor="start" font-weight="normal" textLength="84.3" lengthAdjust="spacingAndGlyphs" >Unrelated Tumor</text>
<rect x="63.3" y="318.4" width="7.1" height="7" fill="#000" stroke="#222" stroke-width="0.8"/>
<text x="73.8" y="326.3" font-size="11.3" text-anchor="start" font-weight="normal" textLength="14.3" lengthAdjust="spacingAndGlyphs" >IL2</text>
<polyline points="76.5,364.8 76.5,360.3 90.4,360.3 90.4,364.8" fill="none" stroke="#111" stroke-width="1.2"/>
<path d="M84.0,360.5L84.0,357.3M84.0,360.5L87.04,359.51M84.0,360.5L85.88,363.09M84.0,360.5L82.12,363.09M84.0,360.5L80.96,359.51" stroke="#111" stroke-width="1.25" fill="none"/>
<polyline points="146.8,330.1 146.8,325.6 160.6,325.6 160.6,330.1" fill="none" stroke="#111" stroke-width="1.2"/>
<path d="M154.3,325.8L154.3,322.6M154.3,325.8L157.34,324.81M154.3,325.8L156.18,328.39M154.3,325.8L152.42,328.39M154.3,325.8L151.26,324.81" stroke="#111" stroke-width="1.25" fill="none"/>
<polyline points="218.6,271.2 218.6,266.7 232.9,266.7 232.9,271.2" fill="none" stroke="#111" stroke-width="1.2"/>
<path d="M225.8,266.9L225.8,263.7M225.8,266.9L228.84,265.91M225.8,266.9L227.68,269.49M225.8,266.9L223.92,269.49M225.8,266.9L222.76,265.91" stroke="#111" stroke-width="1.25" fill="none"/>
<line x1="316.8" y1="266.5" x2="316.8" y2="388.8" stroke="#111" stroke-width="1.2"/>
<line x1="313.1" y1="385.8" x2="316.8" y2="385.8" stroke="#111" stroke-width="1.1"/>
<text x="304.50000000000006" y="389.4" font-size="10.1" text-anchor="start" font-weight="normal" textLength="5.4" lengthAdjust="spacingAndGlyphs" >0</text>
<line x1="313.1" y1="368.85" x2="316.8" y2="368.85" stroke="#111" stroke-width="1.1"/>
<text x="304.50000000000006" y="372.45" font-size="10.1" text-anchor="start" font-weight="normal" textLength="5.4" lengthAdjust="spacingAndGlyphs" >5</text>
<line x1="313.1" y1="351.9" x2="316.8" y2="351.9" stroke="#111" stroke-width="1.1"/>
<text x="299.1" y="355.5" font-size="10.1" text-anchor="start" font-weight="normal" textLength="10.8" lengthAdjust="spacingAndGlyphs" >10</text>
<line x1="313.1" y1="334.95" x2="316.8" y2="334.95" stroke="#111" stroke-width="1.1"/>
<text x="299.1" y="338.55" font-size="10.1" text-anchor="start" font-weight="normal" textLength="10.8" lengthAdjust="spacingAndGlyphs" >15</text>
<line x1="313.1" y1="318.0" x2="316.8" y2="318.0" stroke="#111" stroke-width="1.1"/>
<text x="299.1" y="321.6" font-size="10.1" text-anchor="start" font-weight="normal" textLength="10.8" lengthAdjust="spacingAndGlyphs" >20</text>
<line x1="313.1" y1="301.05" x2="316.8" y2="301.05" stroke="#111" stroke-width="1.1"/>
<text x="299.1" y="304.65" font-size="10.1" text-anchor="start" font-weight="normal" textLength="10.8" lengthAdjust="spacingAndGlyphs" >25</text>
<line x1="313.1" y1="284.1" x2="316.8" y2="284.1" stroke="#111" stroke-width="1.1"/>
<text x="299.1" y="287.7" font-size="10.1" text-anchor="start" font-weight="normal" textLength="10.8" lengthAdjust="spacingAndGlyphs" >30</text>
<line x1="313.1" y1="267.15" x2="316.8" y2="267.15" stroke="#111" stroke-width="1.1"/>
<text x="299.1" y="270.75" font-size="10.1" text-anchor="start" font-weight="normal" textLength="10.8" lengthAdjust="spacingAndGlyphs" >35</text>
<text transform="translate(291.9,335.6) rotate(-90)" font-size="8.9" text-anchor="start" textLength="30" lengthAdjust="spacingAndGlyphs">% Lysis</text>
<line x1="339.95" y1="338.00100000000003" x2="339.95" y2="331.56" stroke="#444" stroke-width="0.8"/>
<line x1="338.05" y1="331.56" x2="341.84999999999997" y2="331.56" stroke="#444" stroke-width="1.2"/>
<rect x="330.5" y="338.0" width="18.9" height="47.8" fill="#000" stroke="#222" stroke-width="0.7"/>
<line x1="358.84999999999997" y1="365.46000000000004" x2="358.84999999999997" y2="363.087" stroke="#444" stroke-width="0.8"/>
<line x1="356.95" y1="363.087" x2="360.74999999999994" y2="363.087" stroke="#444" stroke-width="1.2"/>
<rect x="349.4" y="365.46" width="18.9" height="20.34" fill="#8c8c8c" stroke="#222" stroke-width="0.7"/>
<line x1="377.75" y1="375.63" x2="377.75" y2="374.274" stroke="#444" stroke-width="0.8"/>
<line x1="375.85" y1="374.274" x2="379.65" y2="374.274" stroke="#444" stroke-width="1.2"/>
<rect x="368.3" y="375.63" width="18.9" height="10.17" fill="#fff" stroke="#222" stroke-width="0.7"/>
<line x1="425.75" y1="283.761" x2="425.75" y2="273.93" stroke="#444" stroke-width="0.8"/>
<line x1="423.85" y1="273.93" x2="427.65" y2="273.93" stroke="#444" stroke-width="1.2"/>
<rect x="416.3" y="283.76" width="18.9" height="102.04" fill="#000" stroke="#222" stroke-width="0.7"/>
<line x1="444.65" y1="337.66200000000003" x2="444.65" y2="332.916" stroke="#444" stroke-width="0.8"/>
<line x1="442.75" y1="332.916" x2="446.54999999999995" y2="332.916" stroke="#444" stroke-width="1.2"/>
<rect x="435.2" y="337.66" width="18.9" height="48.14" fill="#8c8c8c" stroke="#222" stroke-width="0.7"/>
<line x1="463.55" y1="355.629" x2="463.55" y2="352.57800000000003" stroke="#444" stroke-width="0.8"/>
<line x1="461.65000000000003" y1="352.57800000000003" x2="465.45" y2="352.57800000000003" stroke="#444" stroke-width="1.2"/>
<rect x="454.1" y="355.63" width="18.9" height="30.17" fill="#fff" stroke="#222" stroke-width="0.7"/>
<line x1="313.8" y1="385.8" x2="487" y2="385.8" stroke="#111" stroke-width="1.2"/>
<line x1="402" y1="385.8" x2="402" y2="388.8" stroke="#111" stroke-width="1.1"/>
<line x1="487" y1="385.8" x2="487" y2="388.8" stroke="#111" stroke-width="1.1"/>
<text x="342.6" y="402.7" font-size="9.2" text-anchor="start" font-weight="normal" textLength="32.5" lengthAdjust="spacingAndGlyphs" >E:T 15:1</text>
<text x="427.4" y="402.7" font-size="9.2" text-anchor="start" font-weight="normal" textLength="32.7" lengthAdjust="spacingAndGlyphs" >E:T 30:1</text>
<polyline points="340.4,324.1 340.4,319.6 376.8,319.6 376.8,324.1" fill="none" stroke="#111" stroke-width="1.2"/>
<path d="M354.85,319.8L354.85,316.6M354.85,319.8L357.89,318.81M354.85,319.8L356.73,322.39M354.85,319.8L352.97,322.39M354.85,319.8L351.81,318.81" stroke="#111" stroke-width="1.25" fill="none"/>
<path d="M361.75,319.8L361.75,316.6M361.75,319.8L364.79,318.81M361.75,319.8L363.63,322.39M361.75,319.8L359.87,322.39M361.75,319.8L358.71,318.81" stroke="#111" stroke-width="1.25" fill="none"/>
<polyline points="340.4,331.6 340.4,327.1 358.6,327.1 358.6,331.6" fill="none" stroke="#111" stroke-width="1.2"/>
<path d="M350.3,327.3L350.3,324.1M350.3,327.3L353.34,326.31M350.3,327.3L352.18,329.89M350.3,327.3L348.42,329.89M350.3,327.3L347.26,326.31" stroke="#111" stroke-width="1.25" fill="none"/>
<polyline points="425.3,265.7 425.3,261.2 461.6,261.2 461.6,265.7" fill="none" stroke="#111" stroke-width="1.2"/>
<path d="M440.15000000000003,261.4L440.15,258.2M440.15000000000003,261.4L443.19,260.41M440.15000000000003,261.4L442.03,263.99M440.15000000000003,261.4L438.27,263.99M440.15000000000003,261.4L437.11,260.41" stroke="#111" stroke-width="1.25" fill="none"/>
<path d="M447.05,261.4L447.05,258.2M447.05,261.4L450.09,260.41M447.05,261.4L448.93,263.99M447.05,261.4L445.17,263.99M447.05,261.4L444.01,260.41" stroke="#111" stroke-width="1.25" fill="none"/>
<polyline points="425.3,271.2 425.3,266.7 443.7,266.7 443.7,271.2" fill="none" stroke="#111" stroke-width="1.2"/>
<path d="M435.3,266.9L435.3,263.7M435.3,266.9L438.34,265.91M435.3,266.9L437.18,269.49M435.3,266.9L433.42,269.49M435.3,266.9L432.26,265.91" stroke="#111" stroke-width="1.25" fill="none"/>
</svg>
</body></html>
